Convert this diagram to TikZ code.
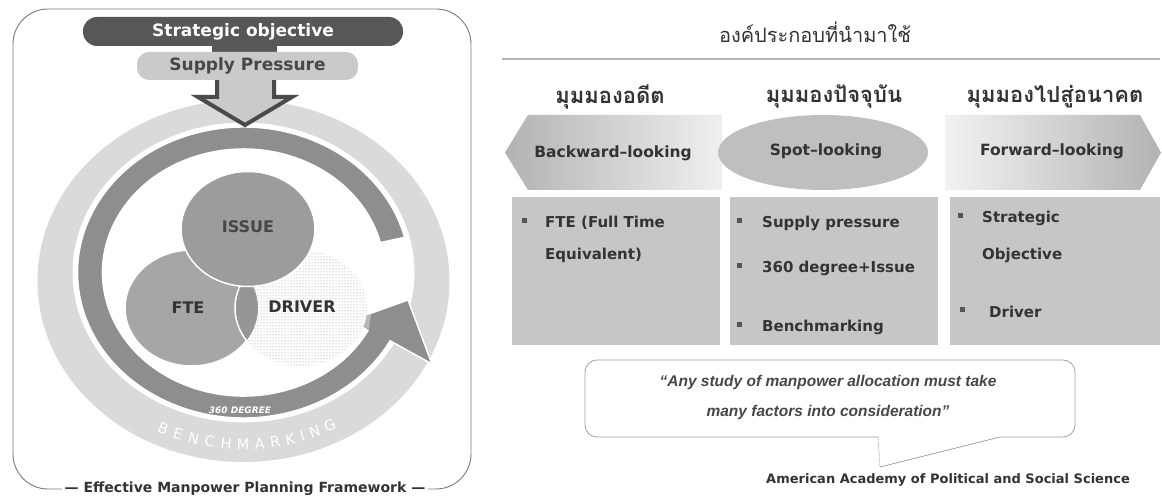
\documentclass[tikz,border=0pt]{standalone}
\usepackage{fontspec}
\setmainfont{DejaVu Sans}
\newfontfamily\thaifont[Script=Thai]{Loma}
\newfontfamily\quotefont{Liberation Sans}
\usetikzlibrary{patterns}
\newcommand\fsz[1]{\fontsize{#1}{#1}\selectfont}
\definecolor{sobar}{HTML}{575757}
\definecolor{supc}{HTML}{CACACA}
\definecolor{ringlight}{HTML}{DADADA}
\definecolor{ringdark}{HTML}{8E8E8E}
\definecolor{issuec}{HTML}{9C9C9C}
\definecolor{ftec}{HTML}{A6A6A6}
\definecolor{lensc}{HTML}{969696}
\definecolor{arrowc}{HTML}{4A4A4A}
\definecolor{txtdark}{HTML}{333333}
\definecolor{txtmid}{HTML}{474747}
\definecolor{framec}{HTML}{7A7A7A}
\definecolor{boxc}{HTML}{C6C6C6}
\definecolor{bulc}{HTML}{555555}
\definecolor{quotec}{HTML}{A0A0A0}
\definecolor{rulec}{HTML}{B4B4B4}
\tikzset{
  bartext/.style={text=txtdark, font=\fsz{15.5}\bfseries},
  boxtext/.style={anchor=west, text=txtdark, font=\fsz{15}\bfseries, inner sep=0},
  bul/.style={fill=bulc, minimum size=5, inner sep=0},
  thaihead/.style={text=txtdark, font=\thaifont\fsz{22}\bfseries},
  venn/.style={text=txtdark, font=\fsz{16}\bfseries},
}
\begin{document}
\begin{tikzpicture}[x=1pt,y=1pt]
\useasboundingbox (0,0) rectangle (1162,497);
\fill[white] (0,0) rectangle (1162,497);

% ---------- left panel frame ----------
\draw[framec, line width=0.9, rounded corners=35] (13,8) rectangle (471,488);
\node[fill=white, inner sep=3, text=txtdark, font=\fsz{14}\bfseries] (cap) at (245,8) {— Effective Manpower Planning Framework —};

% ---------- rings ----------
\fill[ringlight, even odd rule] (243.5,216) ellipse[x radius=206, y radius=181]
      (243.5,224.5) ellipse[x radius=171, y radius=150];
\filldraw[fill=ringdark, draw=white, line width=1.5, line join=miter]
  (404.6,259.7) arc[start angle=14, end angle=332, x radius=166, y radius=145.5]
  -- (432,133) -- (408,197) -- (352,177) -- (368.0,166.5)
  arc[start angle=332, end angle=14, x radius=141, y radius=123.5] -- cycle;
\fill[black!28] (352,177) -- (371,183) -- (369,168) -- cycle;

% BENCHMARKING along the light ring
\foreach \l/\t [count=\i] in {B/245,E/249.9,N/254.8,C/259.8,H/264.8,M/269.9,A/274.9,R/279.6,K/284.2,I/288,N/292,G/297} {
  \pgfmathsetmacro\r{atan2(167*cos(\t), -190*sin(\t))}
  \node[text=white, font=\fsz{14.5}, rotate=\r, inner sep=0] (bm\i) at ({243.5+190*cos(\t)},{220+167*sin(\t)}) {\l};
}
\node[text=white, font=\fsz{9}\bfseries\itshape, inner sep=0] (deg) at (240,87) {360 DEGREE};

% ---------- Venn circles ----------
\fill[white] (301,189) ellipse[x radius=66, y radius=58];
\fill[pattern=dots, pattern color=black!45] (301,189) ellipse[x radius=66, y radius=58];
\filldraw[fill=ftec, draw=white, line width=1.5] (191.5,189) ellipse[x radius=66.5, y radius=58];
\begin{scope}
  \clip (191.5,189) ellipse[x radius=66.5, y radius=58];
  \filldraw[fill=lensc, draw=white, line width=1.5] (301,189) ellipse[x radius=66, y radius=58];
\end{scope}
\filldraw[fill=issuec, draw=white, line width=1.5] (248,268) ellipse[x radius=67, y radius=57.5];
\node[venn, text=txtmid] (issue) at (248,270) {ISSUE};
\node[venn] (fte) at (188,189) {FTE};
\node[venn] (driver) at (302,190) {DRIVER};

% ---------- top arrow and bars ----------
\filldraw[fill=supc, draw=arrowc, line width=4, line join=miter]
  (217,421) -- (217,400) -- (198,400) -- (245,372) -- (292,400) -- (274,400) -- (274,421);
\fill[sobar] (212,441) rectangle (277,453);
\node[fill=supc, rounded corners=12, minimum width=221, minimum height=28, inner sep=0,
      text=txtmid, font=\fsz{17}\bfseries] (sp) at (247.5,431) {Supply Pressure};
\node[fill=sobar, rounded corners=14, minimum width=320, minimum height=29, inner sep=0,
      text=white, font=\fsz{17}\bfseries] (so) at (243,465.5) {Strategic objective};

% ---------- right panel ----------
\node[text=txtdark, font=\thaifont\fsz{20}] (title) at (815,465) {องค์ประกอบที่นำมาใช้};
\draw[rulec, line width=1.2] (502,438) -- (1160,438);

\node[thaihead] (h1) at (610,400) {มุมมองอดีต};
\node[thaihead] (h2) at (834,400) {มุมมองปัจจุบัน};
\node[thaihead] (h3) at (1055,400) {มุมมองไปสู่อนาคต};

\shade[left color=black!30, right color=black!6] (505,344.5) -- (528,382) -- (722,382) -- (722,307) -- (528,307) -- cycle;
\node[bartext] (bw) at (613,344) {Backward–looking};
\fill[black!25] (823,344.5) ellipse[x radius=105, y radius=37.5];
\node[bartext] (sl) at (826,346) {Spot–looking};
\shade[left color=black!5, right color=black!30] (945,382) -- (1140,382) -- (1161,344.5) -- (1140,307) -- (945,307) -- cycle;
\node[bartext] (fl) at (1052,346) {Forward–looking};

\fill[boxc] (512,152) rectangle (720,300);
\fill[boxc] (730,152) rectangle (938,300);
\fill[boxc] (950,152) rectangle (1160,300);

\node[bul] (b11) at (524,276) {};
\node[boxtext] (t11) at (545,274) {FTE (Full Time};
\node[boxtext] (t12) at (545,242) {Equivalent)};

\node[bul] (b21) at (739,276) {};
\node[boxtext] (t21) at (762,274) {Supply pressure};
\node[bul] (b22) at (739,231) {};
\node[boxtext] (t22) at (762,229) {360 degree+Issue};
\node[bul] (b23) at (739,172) {};
\node[boxtext] (t23) at (762,170) {Benchmarking};

\node[bul] (b31) at (960,281) {};
\node[boxtext] (t31) at (982,279) {Strategic};
\node[boxtext] (t32) at (982,242) {Objective};
\node[bul] (b32) at (962,187) {};
\node[boxtext] (t33) at (989,185) {Driver};

% ---------- quote callout ----------
\coordinate (tl) at (878,60);
\coordinate (tip) at (880,30);
\coordinate (tr) at (1000,60);
\draw[quotec, line width=0.8, rounded corners=12] (tl) -- (585,60) -- (585,137) -- (1075,137) -- (1075,60) -- (tr);
\draw[quotec, line width=0.8, densely dotted] (tl) -- (tip);
\draw[quotec, line width=0.8] (tip) -- (tr);
\node[text=txtmid, font=\quotefont\fsz{15.5}\bfseries\itshape] (q1) at (828,115) {“Any study of manpower allocation must take};
\node[text=txtmid, font=\quotefont\fsz{15.5}\bfseries\itshape] (q2) at (828,85) {many factors into consideration”};
\node[text=txtdark, font=\fsz{13}\bfseries] (src) at (948,17) {American Academy of Political and Social Science};
\end{tikzpicture}
\end{document}
